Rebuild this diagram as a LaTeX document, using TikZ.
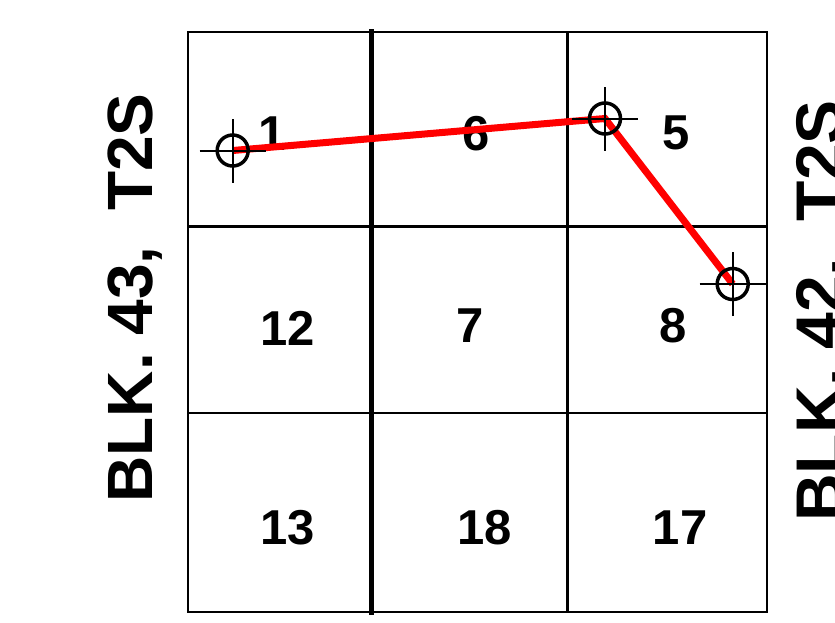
\documentclass[tikz,border=0pt]{standalone}
\usepackage{fontspec}
\setmainfont{Liberation Sans}
\begin{document}
\begin{tikzpicture}[x=1pt,y=-1pt,
  gridline/.style={draw=black,line width=2.2pt},
  thickline/.style={draw=black,line width=4.6pt},
  route/.style={draw=red,line width=7pt},
  xhair/.style={circle,draw=black,line width=3.5pt,minimum size=31pt,inner sep=0pt},
  xarm/.style={draw=black,line width=2pt},
  num/.style={inner sep=0pt,anchor=base,font=\fontsize{49}{55}\selectfont\bfseries},
  side/.style={inner sep=0pt,anchor=base,rotate=90}]
\useasboundingbox (0,0) rectangle (835,622);
\fill[white] (0,0) rectangle (835,622);
% grid
\draw[gridline] (188,32) rectangle (767,612);
\coordinate (h1l) at (188,226.5); \coordinate (h1r) at (767,226.5);
\coordinate (h2l) at (188,413);   \coordinate (h2r) at (767,413);
\coordinate (v2t) at (567.5,32);  \coordinate (v2b) at (567.5,612);
\coordinate (v1t) at (371.5,29);  \coordinate (v1b) at (371.5,615);
\draw[gridline] (h1l) -- (h1r);
\draw[gridline] (h2l) -- (h2r);
\draw[gridline] (v2t) -- (v2b);
\draw[thickline] (v1t) -- (v1b);
% cell numbers
\node[num] (n1)  at (272,150) {1};
\node[num] (n6)  at (476.5,150) {6};
\node[num] (n5)  at (676,149.5) {5};
\node[num] (n12) at (288,345) {12};
\node[num] (n7)  at (470.5,342) {7};
\node[num] (n8)  at (673.5,342) {8};
\node[num] (n13) at (288,544) {13};
\node[num] (n18) at (485,544) {18};
\node[num] (n17) at (680,544) {17};
% route
\coordinate (p1) at (232.7,150.5);
\coordinate (p2) at (605,118.5);
\coordinate (p3) at (732.7,284);
\draw[route] (p1) -- (p2) -- (p3);
% crosshairs
\foreach \p in {p1,p2,p3}{
  \node[xhair] (c\p) at (\p) {};
  \draw[xarm] ([xshift=-33pt]\p) -- ([xshift=33pt]\p);
  \draw[xarm] ([yshift=-32pt]\p) -- ([yshift=32pt]\p);
}
% side labels
\node[side,font=\fontsize{64}{70}\selectfont\bfseries] (left) at (152,298) {BLK. 43,\ \ T2S};
\node[side,font=\fontsize{66}{72}\selectfont\bfseries] (right) at (842,311) {BLK. 42,\ \ T2S};
\end{tikzpicture}
\end{document}
